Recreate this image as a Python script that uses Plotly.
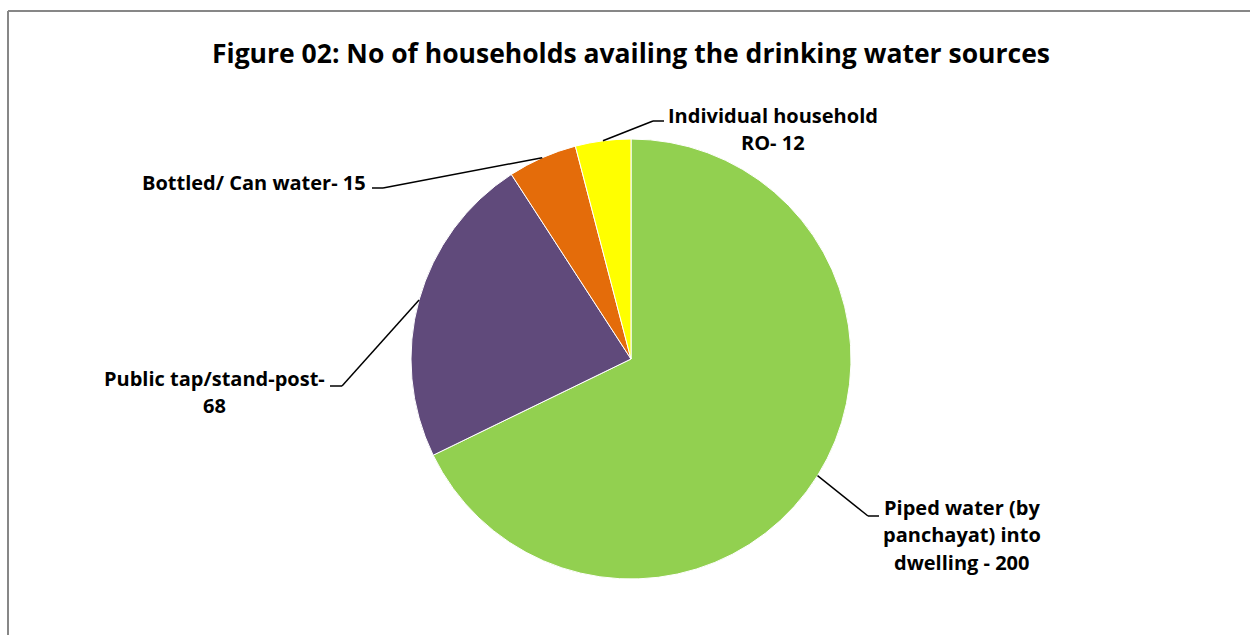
import math
import plotly.graph_objects as go

# ---- data ----
categories = [
    "Piped water (by|panchayat) into|dwelling - 200",
    "Public tap/stand-post-|68",
    "Bottled/ Can water- 15",
    "Individual household|RO- 12",
]
values = [200, 68, 15, 12]
colors = ["#92D050", "#604A7B", "#E46C0A", "#FFFF00"]

# ---- layout (pixels) ----
W, H = 1250, 635
CX, CY, R = 631, 359, 220
FONT = "Open Sans"
LABEL_SIZE = 20
LINE_GAP = 27.5

def px(x):
    return x / W

def py(y):
    return 1 - y / H

fig = go.Figure()
fig.add_trace(go.Pie(
    values=values,
    labels=[c.replace("|", " ") for c in categories],
    marker=dict(colors=colors, line=dict(color="white", width=1)),
    sort=False,
    direction="clockwise",
    rotation=0,
    textinfo="none",
    hoverinfo="label+value",
    showlegend=False,
    domain=dict(x=[px(CX - R), px(CX + R)], y=[py(CY + R), py(CY - R)]),
))

# label placement: elbow point, end of tick, text x (center or right edge), first line y
label_layout = [
    dict(elbow=(868, 516), end=(879, 516), tx=962, ty=507, xa="center"),
    dict(elbow=(342, 386), end=(330, 386), tx=214, ty=378, xa="center"),
    dict(elbow=(383, 188), end=(372, 188), tx=368, ty=182, xa="right"),
    dict(elbow=(653, 121), end=(664, 121), tx=773, ty=115, xa="center"),
]

total = sum(values)
shapes = []
annotations = []
cum = 0.0
for cat, v, lay in zip(categories, values, label_layout):
    mid = (cum + v / 2) / total * 2 * math.pi
    cum += v
    ax = CX + R * math.sin(mid)
    ay = CY - R * math.cos(mid)
    ex, ey = lay["elbow"]
    tx, ty = lay["end"]
    for (x0, y0, x1, y1) in [(ax, ay, ex, ey), (ex, ey, tx, ty)]:
        shapes.append(dict(type="line", xref="paper", yref="paper",
                           x0=px(x0), y0=py(y0), x1=px(x1), y1=py(y1),
                           line=dict(color="black", width=1.5)))
    for i, line in enumerate(cat.split("|")):
        annotations.append(dict(
            text=line, xref="paper", yref="paper",
            x=px(lay["tx"]), y=py(lay["ty"] + i * LINE_GAP),
            xanchor=lay["xa"], yanchor="middle", yshift=0,
            showarrow=False,
            font=dict(family=FONT, size=LABEL_SIZE, color="black", weight="bold"),
        ))

# title
annotations.append(dict(
    text="Figure 02: No of households availing the drinking water sources",
    xref="paper", yref="paper", x=px(631), y=py(53),
    xanchor="center", yanchor="middle", showarrow=False,
    font=dict(family=FONT, size=26.5, color="black", weight="bold"),
))

# chart frame
shapes.append(dict(type="line", xref="paper", yref="paper",
                   x0=px(8), y0=py(11), x1=px(8), y1=py(640),
                   line=dict(color="#878787", width=2)))
shapes.append(dict(type="line", xref="paper", yref="paper",
                   x0=px(8), y0=py(11), x1=px(1255), y1=py(11),
                   line=dict(color="#878787", width=2)))

fig.update_layout(
    width=W, height=H,
    margin=dict(l=0, r=0, t=0, b=0),
    paper_bgcolor="white",
    plot_bgcolor="white",
    shapes=shapes,
    annotations=annotations,
)

fig.write_html("out.html")
